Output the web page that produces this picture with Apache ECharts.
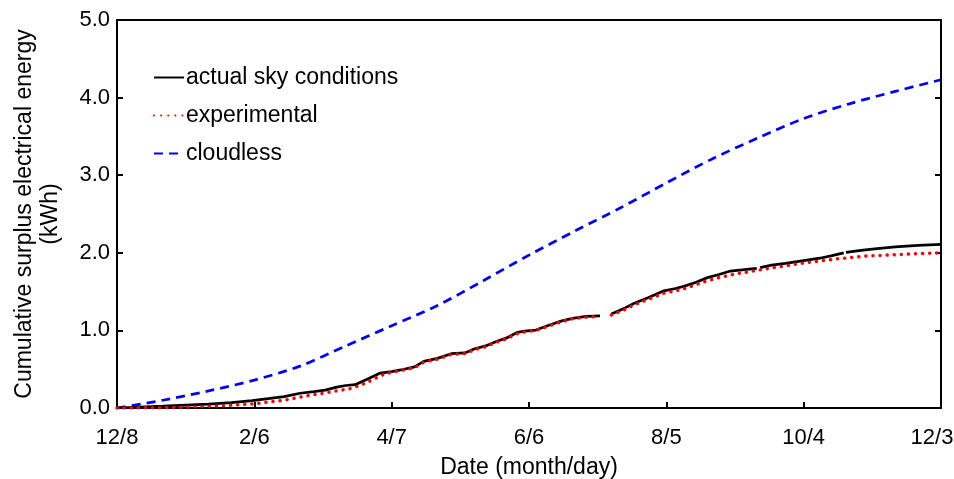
<!DOCTYPE html>
<html>
<head>
<meta charset="utf-8">
<script src="https://cdn.jsdelivr.net/npm/echarts@6/dist/echarts.min.js"></script>
<style>
html, body { margin: 0; padding: 0; background: #fff; }
#main { width: 954px; height: 479px; }
</style>
</head>
<body>
<div id="main"></div>
<script>
// tick labels (every 60 days from 12/8)
var dateLabels = ['12/8', '2/6', '4/7', '6/6', '8/5', '10/4', '12/3'];

// actual sky conditions (day index, kWh); null = gap in record
var actualDays = [0, 10, 20, 30, 40, 50, 59, 66, 73, 80, 86, 91, 96, 100, 104, 110, 115, 120, 124, 130,
    134, 140, 146, 152, 156, 161, 166, 170, 175, 178, 183, 189, 194, 199, 205, 211, 213.5, 216, 222, 226,
    232, 239, 244, 248, 253, 258, 263, 268, 273, 279.5, 280.2, 281, 286, 292, 300, 307, 312, 317.5, 318, 318.5,
    325, 331, 340, 350, 360];
var actualVals = [0, 0.012, 0.024, 0.037, 0.05, 0.07, 0.095, 0.12, 0.146, 0.19, 0.21, 0.23, 0.27, 0.29, 0.30, 0.38, 0.45, 0.47, 0.49, 0.53,
    0.60, 0.64, 0.70, 0.71, 0.76, 0.80, 0.86, 0.90, 0.975, 0.99, 1.005, 1.07, 1.12, 1.156, 1.18, 1.186, null, 1.21, 1.29, 1.35,
    1.42, 1.51, 1.54, 1.57, 1.62, 1.68, 1.72, 1.765, 1.78, 1.80, null, 1.81, 1.84, 1.865, 1.90, 1.93, 1.96, 2.00, null, 2.005,
    2.03, 2.05, 2.075, 2.095, 2.11];

// experimental
var expDays = [0, 10, 20, 30, 40, 50, 60, 67, 73, 80, 85, 90, 94, 98, 102, 106, 110, 114, 117, 122,
    130, 134, 140, 146, 152, 156, 161, 166, 170, 175, 178, 183, 189, 194, 199, 205, 211, 213.5, 216, 222,
    226, 232, 239, 244, 248, 253, 258, 263, 270, 277, 285, 292, 299, 306, 314, 321, 328, 336, 343, 351, 360];
var expVals = [0, 0.002, 0.005, 0.012, 0.022, 0.035, 0.055, 0.08, 0.10, 0.14, 0.168, 0.19, 0.21, 0.23, 0.25, 0.29, 0.34, 0.40, 0.44, 0.47,
    0.52, 0.59, 0.63, 0.69, 0.70, 0.75, 0.79, 0.85, 0.89, 0.96, 0.98, 1.0, 1.06, 1.11, 1.15, 1.17, 1.18, null, 1.20, 1.27,
    1.33, 1.40, 1.48, 1.51, 1.54, 1.59, 1.64, 1.68, 1.727, 1.76, 1.80, 1.83, 1.865, 1.89, 1.92, 1.94, 1.96, 1.97, 1.98, 1.99, 2.0];

// cloudless
var cloudDays = [0, 20, 40, 60, 80, 100, 120, 140, 160, 180, 200, 220, 240, 260, 280, 300, 320, 340, 360];
var cloudVals = [0, 0.1, 0.22, 0.36, 0.54, 0.8, 1.06, 1.32, 1.64, 1.97, 2.28, 2.58, 2.9, 3.21, 3.48, 3.73, 3.92, 4.08, 4.23];

function pairs(xs, ys) {
    return xs.map(function (x, i) {
        return [x, ys[i]];
    });
}

var fontFam = '"Liberation Sans", Arial, sans-serif';

var myChart = echarts.init(document.getElementById('main'));
var option = {
    backgroundColor: '#fff',
    animation: false,
    grid: { left: 117, right: 13, top: 20, bottom: 71, outerBoundsMode: 'none', containLabel: false },
    legend: {
        orient: 'vertical',
        left: 148,
        top: 61,
        padding: 5,
        itemWidth: 30,
        itemHeight: 20,
        itemGap: 15,
        itemStyle: { opacity: 0 },
        textStyle: { color: '#000', fontSize: 23, fontFamily: fontFam, lineHeight: 20, padding: [0, 0, 0, -3] },
        data: ['actual sky conditions', 'experimental', 'cloudless']
    },
    xAxis: [
        {
            type: 'value',
            min: 0,
            max: 360,
            interval: 60,
            name: 'Date (month/day)',
            nameLocation: 'middle',
            nameGap: 48,
            nameTextStyle: { color: '#000', fontSize: 23, fontFamily: fontFam },
            axisLine: { lineStyle: { color: '#000', width: 2 } },
            axisTick: { inside: true, length: 6, lineStyle: { color: '#000', width: 2 } },
            axisLabel: {
                color: '#000', fontSize: 22, fontFamily: fontFam, margin: 19,
                formatter: function (v) {
                    var i = Math.round(v / 60);
                    // last label is pushed left a little, as in the original figure
                    return i === dateLabels.length - 1 ? '{end|' + dateLabels[i] + '}' : dateLabels[i];
                },
                rich: {
                    end: { color: '#000', fontSize: 22, fontFamily: fontFam, padding: [0, 18, 0, 0] }
                }
            },
            splitLine: { show: false }
        },
        {
            type: 'value',
            position: 'top',
            min: 0,
            max: 360,
            axisLine: { show: true, onZero: false, lineStyle: { color: '#000', width: 2 } },
            axisTick: { show: false },
            axisLabel: { show: false },
            splitLine: { show: false }
        }
    ],
    yAxis: [
        {
            type: 'value',
            min: 0,
            max: 5,
            interval: 1,
            name: 'Cumulative surplus electrical energy\n(kWh)',
            nameLocation: 'middle',
            nameGap: 53,
            nameTextStyle: { color: '#000', fontSize: 23, fontFamily: fontFam, lineHeight: 26 },
            axisLine: { show: true, lineStyle: { color: '#000', width: 2 } },
            axisTick: { show: true, inside: true, length: 6, lineStyle: { color: '#000', width: 2 } },
            axisLabel: {
                color: '#000', fontSize: 22, fontFamily: fontFam, margin: 7,
                formatter: function (v) { return v.toFixed(1); }
            },
            splitLine: { show: false }
        },
        {
            type: 'value',
            position: 'right',
            min: 0,
            max: 5,
            interval: 1,
            axisLine: { show: true, onZero: false, lineStyle: { color: '#000', width: 2 } },
            axisTick: { show: true, inside: true, length: 6, lineStyle: { color: '#000', width: 2 } },
            axisLabel: { show: false },
            splitLine: { show: false }
        }
    ],
    series: [
        {
            name: 'actual sky conditions',
            type: 'line',
            symbol: 'none',
            z: 3,
            connectNulls: false,
            lineStyle: { color: '#000', width: 2.75 },
            itemStyle: { color: '#000' },
            data: pairs(actualDays, actualVals)
        },
        {
            name: 'experimental',
            type: 'line',
            symbol: 'none',
            z: 4,
            connectNulls: false,
            lineStyle: { color: '#ff0000', width: 3.5, type: [0.1, 7], cap: 'round' },
            itemStyle: { color: '#ff0000' },
            data: pairs(expDays, expVals)
        },
        {
            name: 'cloudless',
            type: 'line',
            symbol: 'none',
            smooth: 0.3,
            z: 2,
            lineStyle: { color: '#0000ff', width: 2.75, type: [9, 6] },
            itemStyle: { color: '#0000ff' },
            data: pairs(cloudDays, cloudVals)
        }
    ]
};
myChart.setOption(option);
</script>
</body>
</html>
